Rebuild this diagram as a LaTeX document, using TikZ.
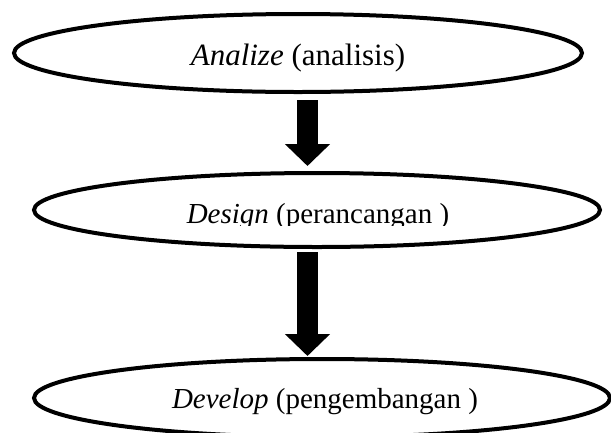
\documentclass[tikz,border=0pt]{standalone}
\usepackage{fontspec}
\setmainfont{Liberation Serif}
\usetikzlibrary{shapes.geometric,arrows.meta}
\tikzset{
  stage/.style={draw=black, line width=4pt, ellipse, inner sep=0pt},
  label/.style={anchor=base, inner sep=0pt, font=\fontsize{29}{34}\selectfont},
  biglabel/.style={label, font=\fontsize{31}{36}\selectfont},
  blockarrow/.style={draw=black, line width=21pt, -{Triangle[width=44pt,length=22pt]}}
}
\begin{document}
\begin{tikzpicture}[x=1pt,y=-1pt]
\useasboundingbox (0,0) rectangle (611,432);
\clip (0,0) rectangle (611,432);
\node[stage, minimum width=568pt, minimum height=78pt] (e1) at (298,53) {};
\node[stage, minimum width=566pt, minimum height=74pt] (e2) at (317,210) {};
\node[stage, minimum width=576pt, minimum height=78pt] (e3) at (322,398) {};
\node[biglabel] (t1) at (298,65) {\textit{Analize} (analisis)};
\begin{scope}
\clip (100,180) rectangle (540,225);
\node[label] (t2) at (318,223) {\textit{Design} (perancangan )};
\end{scope}
\node[label] (t3) at (325,408) {\textit{Develop} (pengembangan )};
\coordinate (ax) at (307.5,0);
\draw[blockarrow] ([yshift=-6pt]ax |- e1.south) -- ([yshift=5pt]ax |- e2.north);
\draw[blockarrow] ([yshift=-3pt]ax |- e2.south) -- ([yshift=1pt]ax |- e3.north);
\end{tikzpicture}
\end{document}
